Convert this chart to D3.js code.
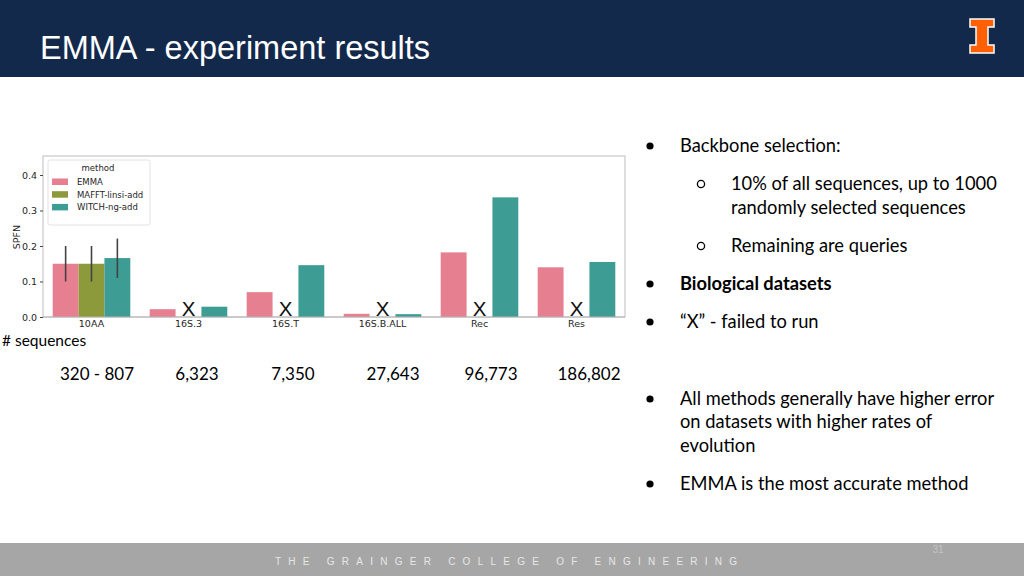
<!DOCTYPE html>
<html>
<head>
<meta charset="utf-8">
<script src="https://cdn.jsdelivr.net/npm/d3@7"></script>
<style>
  html, body { margin: 0; padding: 0; background: #fff; }
  svg { display: block; }
</style>
</head>
<body>
<svg id="chart" width="1024" height="576"></svg>
<script>
// ---- data ----
const categories = ["10AA", "16S.3", "16S.T", "16S.B.ALL", "Rec", "Res"];
const methods = ["EMMA", "MAFFT-linsi-add", "WITCH-ng-add"];
const emmaValues  = [0.150, 0.022, 0.070, 0.009, 0.182, 0.140];
const mafftValues = [0.150, null,  null,  null,  null,  null];
const witchValues = [0.166, 0.029, 0.146, 0.008, 0.337, 0.155];
const emmaErr  = [[0.100, 0.200], null, null, null, null, null];
const mafftErr = [[0.100, 0.200], null, null, null, null, null];
const witchErr = [[0.110, 0.221], null, null, null, null, null];
const yTicks = [0.0, 0.1, 0.2, 0.3, 0.4];
const seqCounts = ["320 - 807", "6,323", "7,350", "27,643", "96,773", "186,802"];
const methodColors = ["#e67f90", "#8d9a3b", "#3d9d94"];

const seriesValues = [emmaValues, mafftValues, witchValues];
const seriesErr = [emmaErr, mafftErr, witchErr];

const svg = d3.select("#chart");

// ---- slide chrome ----
svg.append("rect").attr("x", 0).attr("y", 0).attr("width", 1024).attr("height", 77).attr("fill", "#13294b");
svg.append("text").attr("x", 40).attr("y", 59)
  .attr("font-family", "Liberation Sans, Arial, sans-serif").attr("font-size", 32.5)
  .attr("fill", "#ffffff").text("EMMA - experiment results");

// Illinois block I
const logo = svg.append("g").attr("transform", "translate(970,19)");
const iPath = "M0,0 H24 V8 H18 V26 H24 V34 H0 V26 H6 V8 H0 Z";
logo.append("path").attr("d", iPath).attr("fill", "#ff5f05").attr("stroke", "#ffffff").attr("stroke-width", 1.5);

svg.append("rect").attr("x", 0).attr("y", 543).attr("width", 1024).attr("height", 33).attr("fill", "#a6a6a6");
svg.append("text").attr("x", 275).attr("y", 565)
  .attr("font-family", "Liberation Sans, Arial, sans-serif").attr("font-size", 10)
  .attr("letter-spacing", "7.25px").attr("fill", "#e6e6e6")
  .text("THE GRAINGER COLLEGE OF ENGINEERING");
svg.append("text").attr("x", 938).attr("y", 553).attr("text-anchor", "middle")
  .attr("font-family", "Liberation Sans, Arial, sans-serif").attr("font-size", 10)
  .attr("fill", "#c4c4c4").text("31");

// ---- chart ----
const plot = {left: 43, right: 625, top: 156, bottom: 317};
const x0 = d3.scaleBand().domain(categories).range([plot.left, plot.right]).paddingInner(0.2).paddingOuter(0.1);
const x1 = d3.scaleBand().domain(methods).range([0, x0.bandwidth()]);
const y = d3.scaleLinear().domain([0, 0.4535]).range([plot.bottom, plot.top]);

const tickFont = "DejaVu Sans, sans-serif";

// frame
svg.append("rect").attr("x", plot.left).attr("y", plot.top)
  .attr("width", plot.right - plot.left).attr("height", plot.bottom - plot.top)
  .attr("fill", "none").attr("stroke", "#bdbdbd").attr("stroke-width", 1);

// bars
const g = svg.append("g");
categories.forEach((c, ci) => {
  methods.forEach((m, mi) => {
    const v = seriesValues[mi][ci];
    const bx = x0(c) + x1(m);
    if (v !== null) {
      g.append("rect").attr("x", bx).attr("y", y(v))
        .attr("width", x1.bandwidth()).attr("height", y(0) - y(v))
        .attr("fill", methodColors[mi]);
      const e = seriesErr[mi][ci];
      if (e) {
        g.append("line").attr("x1", bx + x1.bandwidth() / 2).attr("x2", bx + x1.bandwidth() / 2)
          .attr("y1", y(e[0])).attr("y2", y(e[1]))
          .attr("stroke", "#424242").attr("stroke-width", 1.6);
      }
    } else {
      g.append("text").attr("x", bx + x1.bandwidth() / 2).attr("y", y(0) - 1)
        .attr("text-anchor", "middle").attr("font-family", "Liberation Sans, Arial, sans-serif")
        .attr("font-size", 20.5).attr("fill", "#111").text("X");
    }
  });
});

// bottom spine
svg.append("line").attr("x1", plot.left).attr("x2", plot.right).attr("y1", plot.bottom).attr("y2", plot.bottom)
  .attr("stroke", "#b5b5b5").attr("stroke-width", 1.2);

// x axis
const xAxis = svg.append("g").attr("transform", `translate(0,${plot.bottom})`)
  .call(d3.axisBottom(x0).tickSize(0).tickPadding(3.5));
xAxis.select(".domain").remove();
xAxis.selectAll("text").attr("font-family", tickFont).attr("font-size", 9.5).attr("fill", "#262626");

// y axis
const yAxis = svg.append("g").attr("transform", `translate(${plot.left},0)`)
  .call(d3.axisLeft(y).tickValues(yTicks).tickFormat(d3.format(".1f")).tickSize(3).tickPadding(3));
yAxis.select(".domain").remove();
yAxis.selectAll("line").attr("stroke", "#444");
yAxis.selectAll("text").attr("font-family", tickFont).attr("font-size", 9.5).attr("fill", "#262626");

svg.append("text").attr("transform", "translate(20,237) rotate(-90)")
  .attr("text-anchor", "middle").attr("font-family", tickFont).attr("font-size", 9.5)
  .attr("fill", "#262626").text("SPFN");

// legend
const lg = svg.append("g");
lg.append("rect").attr("x", 48).attr("y", 160).attr("width", 102).attr("height", 65)
  .attr("rx", 2).attr("fill", "#fff").attr("stroke", "#e0e0e0").attr("opacity", 0.9);
lg.append("text").attr("x", 98).attr("y", 171).attr("text-anchor", "middle")
  .attr("font-family", tickFont).attr("font-size", 8.5).attr("fill", "#262626").text("method");
methods.forEach((m, i) => {
  const yy = 182 + i * 12.7;
  lg.append("rect").attr("x", 52).attr("y", yy - 3.5).attr("width", 16).attr("height", 6.5).attr("fill", methodColors[i]);
  lg.append("text").attr("x", 77).attr("y", yy + 3).attr("font-family", tickFont)
    .attr("font-size", 8.5).attr("fill", "#262626").text(m);
});

// # sequences
const bodyFont = "Lato, 'Open Sans', sans-serif";
svg.append("text").attr("x", 2).attr("y", 346).attr("font-family", bodyFont).attr("font-size", 15.5)
  .attr("fill", "#000").text("# sequences");
const seqX = [97, 197, 293, 393, 491, 589];
seqCounts.forEach((s, i) => {
  svg.append("text").attr("x", seqX[i]).attr("y", 380).attr("text-anchor", "middle")
    .attr("font-family", bodyFont).attr("font-size", 17).attr("fill", "#000").text(s);
});

// right-side bullets
const bullets = [
  {lvl: 0, y: 146, text: "Backbone selection:"},
  {lvl: 1, y: 184, text: "10% of all sequences, up to 1000"},
  {lvl: -1, y: 208, text: "randomly selected sequences"},
  {lvl: 1, y: 246, text: "Remaining are queries"},
  {lvl: 0, y: 284, text: "Biological datasets", bold: true},
  {lvl: 0, y: 322, text: "\u201CX\u201D - failed to run"},
  {lvl: 0, y: 399, text: "All methods generally have higher error"},
  {lvl: 2, y: 422, text: "on datasets with higher rates of"},
  {lvl: 2, y: 446, text: "evolution"},
  {lvl: 0, y: 484, text: "EMMA is the most accurate method"}
];
bullets.forEach(b => {
  const tx = (b.lvl === 1 || b.lvl === -1) ? 731 : 680;
  if (b.lvl === 0) svg.append("circle").attr("cx", 650).attr("cy", b.y).attr("r", 3.6).attr("fill", "#000");
  if (b.lvl === 1) svg.append("circle").attr("cx", 701).attr("cy", b.y).attr("r", 3.6).attr("fill", "none").attr("stroke", "#000").attr("stroke-width", 1.3);
  svg.append("text").attr("x", tx).attr("y", b.y + 6).attr("font-family", bodyFont)
    .attr("font-size", 18.3).attr("font-weight", b.bold ? "bold" : "normal").attr("fill", "#000").text(b.text);
});
</script>
</body>
</html>
